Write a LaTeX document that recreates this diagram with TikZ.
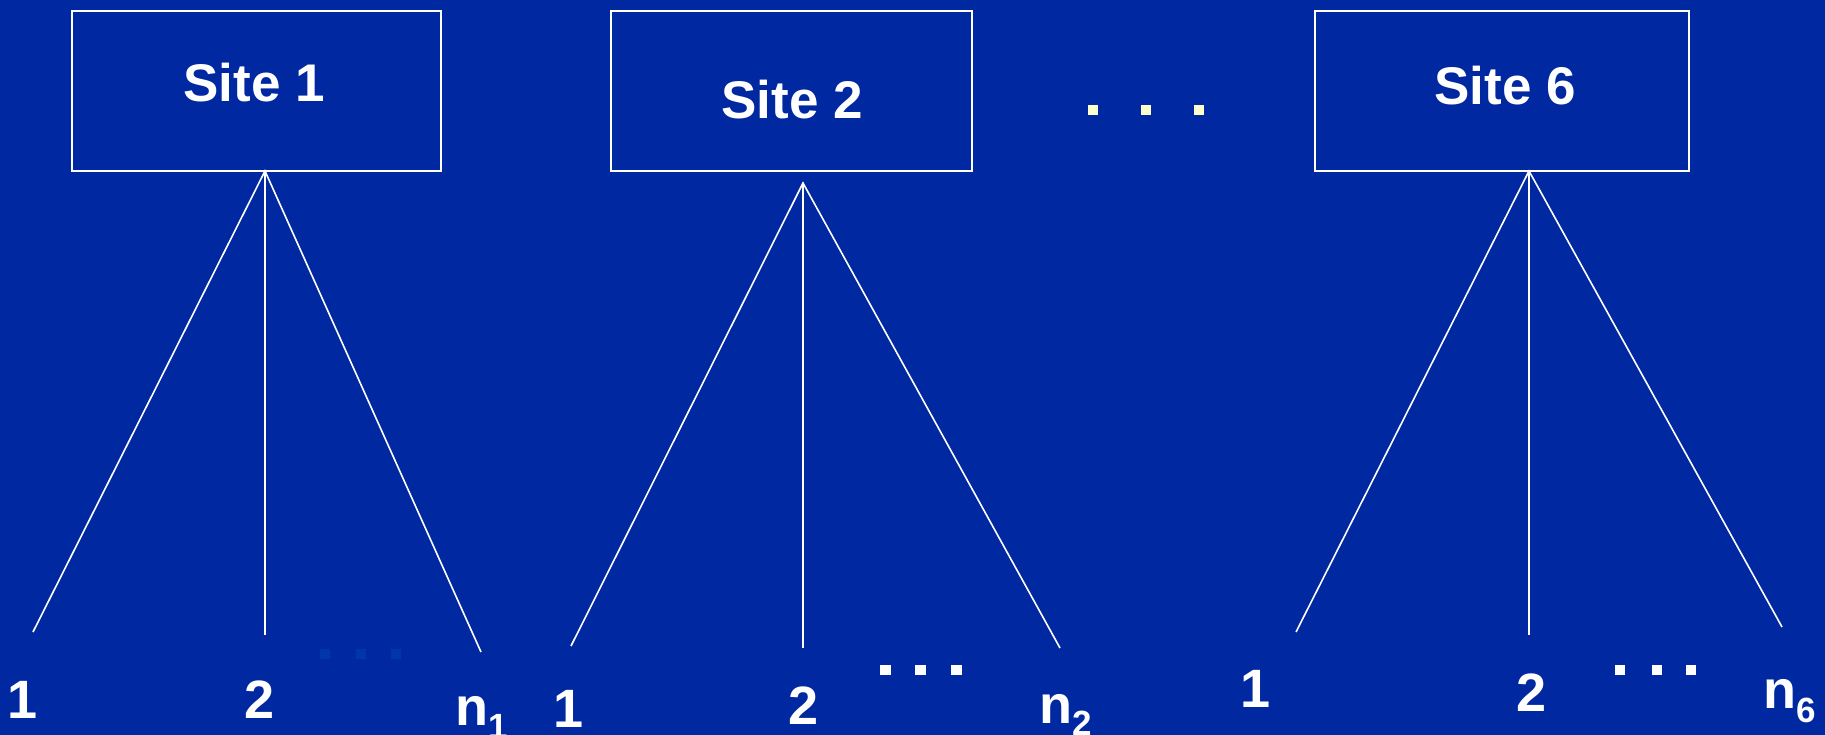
\documentclass[tikz,border=0pt]{standalone}
\usepackage{fontspec}
\setmainfont{Liberation Sans}
\definecolor{bgblue}{RGB}{0,40,160}
\definecolor{dimdot}{RGB}{0,54,170}
\definecolor{paleyellow}{RGB}{255,255,204}
\newcommand{\subscr}[2]{\raisebox{-#1pt}{\fontsize{35}{36}\selectfont #2}}
\begin{document}
\begin{tikzpicture}[x=1pt,y=-1pt,
  sitebox/.style={draw=white, line width=2pt, minimum width=#1, minimum height=160pt, inner sep=0pt},
  sitetext/.style={text=white, inner sep=0pt, font=\fontsize{53}{60}\selectfont\bfseries},
  leaflabel/.style={text=white, inner sep=0pt, font=\fontsize{54}{60}\selectfont\bfseries},
  branch/.style={draw=white, line width=1.6pt},
  ]
\useasboundingbox (0,0) rectangle (1825,735);
\fill[bgblue] (0,0) rectangle (1825,735);

% boxes
\node[sitebox=369pt] (box1) at (256.5,91) {};
\node[sitebox=361pt] (box2) at (791.5,91) {};
\node[sitebox=374pt] (box6) at (1502,91) {};
\node[sitetext] (t1) at (254,83) {Site 1};
\node[sitetext] (t2) at (792,100) {Site 2};
\node[sitetext] (t6) at (1505,86) {Site 6};

% top dots
\foreach \x in {1093,1146,1199}
  \fill[paleyellow] (\x-5,105) rectangle (\x+5,115);

% tree 1
\coordinate (a1) at (265,171);
\coordinate (l11) at (33,632);
\coordinate (l12) at (265,635);
\coordinate (l1n) at (481,652);
\draw[branch] (l11) -- (a1) -- (l1n);
\draw[branch] (a1) -- (l12);

% tree 2
\coordinate (a2) at (803,183);
\coordinate (l21) at (571,646);
\coordinate (l22) at (803,648);
\coordinate (l2n) at (1060,648);
\draw[branch] (l21) -- (a2) -- (l2n);
\draw[branch] (a2) -- (l22);

% tree 6
\coordinate (a6) at (1529,171);
\coordinate (l61) at (1296,632);
\coordinate (l62) at (1529,635);
\coordinate (l6n) at (1782,627);
\draw[branch] (l61) -- (a6) -- (l6n);
\draw[branch] (a6) -- (l62);

% leaf dots
\foreach \x in {325,361,396}
  \fill[dimdot] (\x-5,649) rectangle (\x+5,659);
\foreach \x in {885,920,956}
  \fill[white] (\x-5.5,665) rectangle (\x+5.5,675);
\foreach \x in {1620,1657,1691}
  \fill[white] (\x-5,665) rectangle (\x+5,675);

% leaf labels
\node[leaflabel] (n11) at (23,700) {1};
\node[leaflabel] (n12) at (260,700) {2};
\node[leaflabel, anchor=base west] (n1n) at (455,725) {n\subscr{13}{1}};
\node[leaflabel] (n21) at (569,709) {1};
\node[leaflabel] (n22) at (804,706) {2};
\node[leaflabel, anchor=base west] (n2n) at (1039,723) {n\subscr{12}{2}};
\node[leaflabel] (n61) at (1255,689) {1};
\node[leaflabel] (n62) at (1531,693) {2};
\node[leaflabel, anchor=base west] (n6n) at (1763,708) {n\subscr{14}{6}};
\end{tikzpicture}
\end{document}
